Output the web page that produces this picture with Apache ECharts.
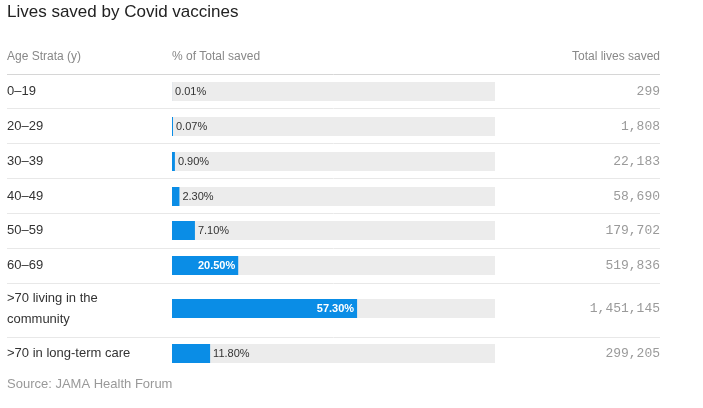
<!DOCTYPE html>
<html><head><meta charset="utf-8">
<script src="https://cdn.jsdelivr.net/npm/echarts@6/dist/echarts.min.js"></script>
<style>html,body{margin:0;padding:0;background:#fff}#c{width:703px;height:408px}</style>
</head><body><div id="c"></div>
<script>
const categories = ['0–19','20–29','30–39','40–49','50–59','60–69','>70 living in the\ncommunity','>70 in long-term care'];
const pctSaved = [0.01, 0.07, 0.90, 2.30, 7.10, 20.50, 57.30, 11.80];
const totalSaved = [299, 1808, 22183, 58690, 179702, 519836, 1451145, 299205];
const headers = ['Age Strata (y)', '% of Total saved', 'Total lives saved'];
const titleText = 'Lives saved by Covid vaccines';
const sourceText = 'Source: JAMA Health Forum';

// layout
const FONT = 'Liberation Sans, Arial, sans-serif';
const MONO = 'Liberation Mono, monospace';
const barTops = [82, 117, 152, 187, 221, 256, 299, 344];
const rowLines = [108.5, 143.5, 178.5, 213.5, 248.5, 283.5, 337.5];
const BAR_LEFT = 172, BAR_W = 323, BAR_H = 19, LEFT = 7, RIGHT = 660;
const BLUE = '#0a8de6';

const grids = [], xAxes = [], yAxes = [], series = [];
categories.forEach((cat, i) => {
  grids.push({left: BAR_LEFT, top: barTops[i], width: BAR_W, height: BAR_H});
  xAxes.push({type: 'value', gridIndex: i, min: 0, max: 100, show: false});
  yAxes.push({type: 'category', gridIndex: i, data: [cat],
    axisLine: {show: false}, axisTick: {show: false}, splitLine: {show: false},
    axisLabel: {margin: BAR_LEFT - LEFT, align: 'left', color: '#333', fontSize: 13, lineHeight: 21, fontFamily: FONT}});
  yAxes.push({type: 'category', gridIndex: i, position: 'right', data: [totalSaved[i].toLocaleString('en-US')],
    axisLine: {show: false}, axisTick: {show: false}, splitLine: {show: false},
    axisLabel: {margin: RIGHT - BAR_LEFT - BAR_W, align: 'right', color: '#9a9a9a', fontSize: 13, fontFamily: MONO}});
  const v = pctSaved[i];
  const inside = v >= 15;
  series.push({type: 'bar', xAxisIndex: i, yAxisIndex: 2 * i, barWidth: BAR_H,
    barMinHeight: v >= 0.05 ? 1 : 0,
    showBackground: true, backgroundStyle: {color: '#ececec'},
    itemStyle: {color: BLUE}, silent: true,
    data: [{value: v, label: {show: true, position: inside ? 'insideRight' : 'right', distance: 3,
      color: inside ? '#fff' : '#333', fontWeight: inside ? 'bold' : 'normal', fontSize: 11, fontFamily: FONT,
      formatter: p => p.value.toFixed(2) + '%'}}]
  });
});

const graphic = [
  {type: 'text', left: LEFT, top: 4, style: {text: titleText, fill: '#222', font: '17px ' + FONT}},
  {type: 'text', left: LEFT, top: 51, style: {text: headers[0], fill: '#888', font: '12px ' + FONT}},
  {type: 'text', left: BAR_LEFT, top: 51, style: {text: headers[1], fill: '#888', font: '12px ' + FONT}},
  {type: 'text', right: 703 - RIGHT, top: 51, style: {text: headers[2], fill: '#888', font: '12px ' + FONT}},
  {type: 'line', shape: {x1: LEFT, y1: 74.5, x2: RIGHT, y2: 74.5}, style: {stroke: '#d6d6d6', lineWidth: 1}},
  {type: 'text', left: LEFT, top: 378, style: {text: sourceText, fill: '#999', font: '13px ' + FONT}}
];
rowLines.forEach(y => graphic.push({type: 'line', shape: {x1: LEFT, y1: y, x2: RIGHT, y2: y}, style: {stroke: '#e8e8e8', lineWidth: 1}}));

const chart = echarts.init(document.getElementById('c'));
chart.setOption({animation: false, grid: grids, xAxis: xAxes, yAxis: yAxes, series: series, graphic: graphic});
</script></body></html>
